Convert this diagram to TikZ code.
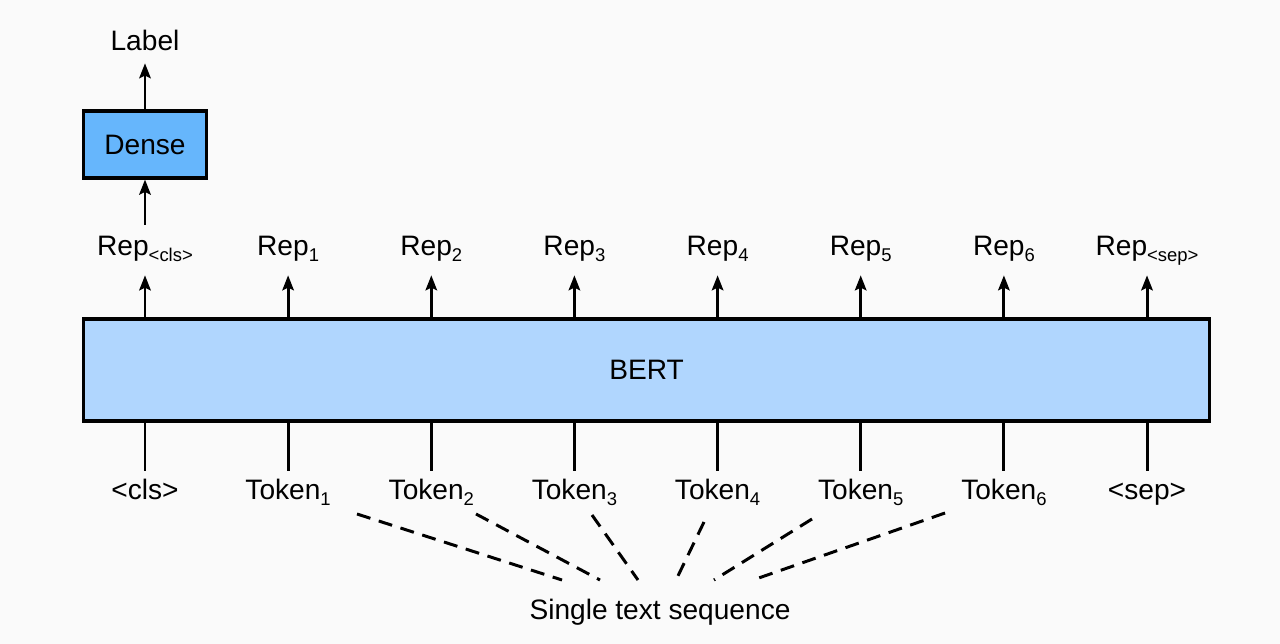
\documentclass[tikz,border=0pt]{standalone}
\usepackage{fontspec}
\setmainfont{Liberation Sans}
\usetikzlibrary{arrows.meta,positioning}
\definecolor{bertfill}{HTML}{B0D6FE}
\definecolor{densefill}{HTML}{66B6FC}
\definecolor{paperbg}{HTML}{FAFAFA}
\newcommand{\lowsub}[1]{\raisebox{-3pt}{\fontsize{10.5}{12}\selectfont #1}}

\begin{document}
\begin{tikzpicture}[x=0.02cm,y=-0.02cm,>={Stealth[length=8.5pt,width=6.5pt,inset=1.5pt]},
  lbl/.style={font=\fontsize{16}{19}\selectfont,inner sep=0pt,text height=11.5pt,text depth=0pt,anchor=base},
  boxed/.style={draw,line width=1.8pt,font=\fontsize{16}{19}\selectfont},
  link/.style={line width=1.7pt},
  seqdash/.style={line width=1.7pt,dash pattern=on 8pt off 5pt}]
\fill[paperbg] (0,0) rectangle (1280,644);
\useasboundingbox (0,0) rectangle (1280,644);
% encoder block
\node[boxed,fill=bertfill,minimum width=22.54cm,minimum height=2.04cm] (bert) at (646.5,370) {BERT};
% inputs and outputs per position
\foreach \i/\x/\rep/\tok in {0/145/{<cls>}/{<cls>},1/288.1/1/{Token\lowsub{1}},2/431.3/2/{Token\lowsub{2}},
    3/574.4/3/{Token\lowsub{3}},4/717.6/4/{Token\lowsub{4}},5/860.7/5/{Token\lowsub{5}},
    6/1003.9/6/{Token\lowsub{6}},7/1147/{<sep>}/{<sep>}}{
  \node[lbl] (rep\i) at (\x,256) {Rep\lowsub{\rep}};
  \node[lbl] (tok\i) at (\x,500) {\tok};
  \draw[link,->,shorten >=11pt] (bert.north -| rep\i) -- (rep\i.base);
  \draw[link,shorten >=5pt] (bert.south -| tok\i) -- (tok\i.north);
}
% classifier head
\node[boxed,fill=densefill,minimum width=2.46cm,minimum height=1.34cm] (dense) at (145,144.5) {Dense};
\node[lbl] (label) at (145,51) {Label};
\draw[link,->,shorten <=6pt] (rep0.north) -- (dense.south);
\draw[link,->,shorten >=7pt] (dense.north) -- (label.base);
% the sequence
\node[lbl] (seq) at (660,619) {Single text sequence};
\coordinate (s1) at (357,514); \coordinate (e1) at (562,580);
\coordinate (s2) at (476,514); \coordinate (e2) at (600,580);
\coordinate (s3) at (592,515); \coordinate (e3) at (638,580);
\coordinate (s4) at (704,522); \coordinate (e4) at (676,580);
\coordinate (s5) at (812,519); \coordinate (e5) at (714,580);
\coordinate (s6) at (945,513); \coordinate (e6) at (753,580);
\foreach \k in {1,...,6}
  \draw[seqdash] (s\k) -- (e\k);
\end{tikzpicture}
\end{document}
